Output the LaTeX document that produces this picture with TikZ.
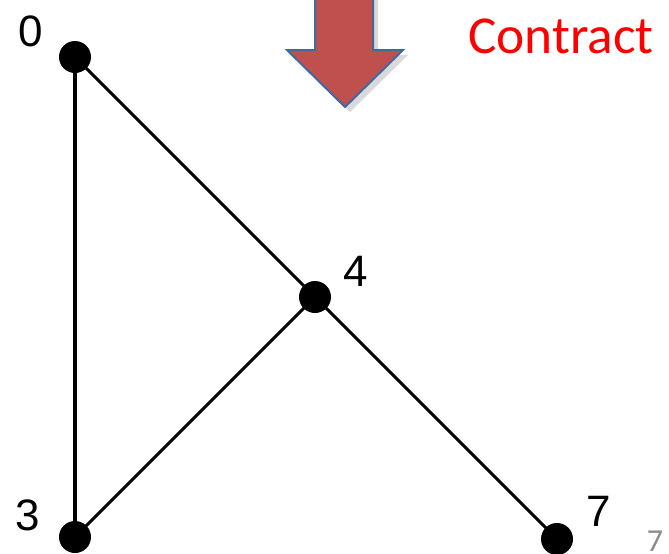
\documentclass[tikz,border=0pt]{standalone}
\usepackage{fontspec}
\newfontfamily\arialfont{Liberation Sans}
\newfontfamily\calibrifont{Carlito}
\usepackage{tikz}
\usetikzlibrary{arrows.meta,calc}
\definecolor{arrowred}{RGB}{192,80,77}
\definecolor{arrowedge}{RGB}{65,105,160}
\definecolor{pagegray}{RGB}{140,140,140}

\begin{document}
\begin{tikzpicture}[x=0.75pt,y=-0.75pt,line cap=round,
    vertex/.style={circle,fill=black,inner sep=0pt,minimum size=24pt},
    vlabel/.style={font=\arialfont\fontsize{33}{33}\selectfont},
    edge/.style={line width=2.3pt}]
  \useasboundingbox (0,0) rectangle (669,554);
  % contract arrow
  \fill[black,opacity=0.15] (320,-5) -- (378,-5) -- (378,55) -- (408,55) -- (350,112) -- (292,55) -- (320,55) -- cycle;
  \filldraw[fill=arrowred,draw=arrowedge,line width=1.5pt,line join=miter]
    (315,-5) -- (373,-5) -- (373,50) -- (403,50) -- (345,107) -- (287,50) -- (315,50) -- cycle;
  \node[font=\calibrifont\fontsize{40}{40}\selectfont,text=red] (contract) at (561,36) {Contract};
  % graph
  \node[vertex] (v0) at (75,57) {};
  \node[vertex] (v4) at (315,297) {};
  \node[vertex] (v3) at (75,537) {};
  \node[vertex] (v7) at (557,539) {};
  \draw[edge] (v0.center) -- (v3.center);
  \draw[edge] (v0.center) -- (v4.center) -- (v7.center);
  \draw[edge] (v3.center) -- (v4.center);
  \foreach \v/\t/\p in {v0/0/{(31,31)},v4/4/{(356,271)},v3/3/{(28,515)},v7/7/{(599,511)}}
    \node[vlabel] (l\v) at \p {\t};
  \node[font=\calibrifont\fontsize{24}{24}\selectfont,text=pagegray] (page) at (655,541) {7};
\end{tikzpicture}
\end{document}
